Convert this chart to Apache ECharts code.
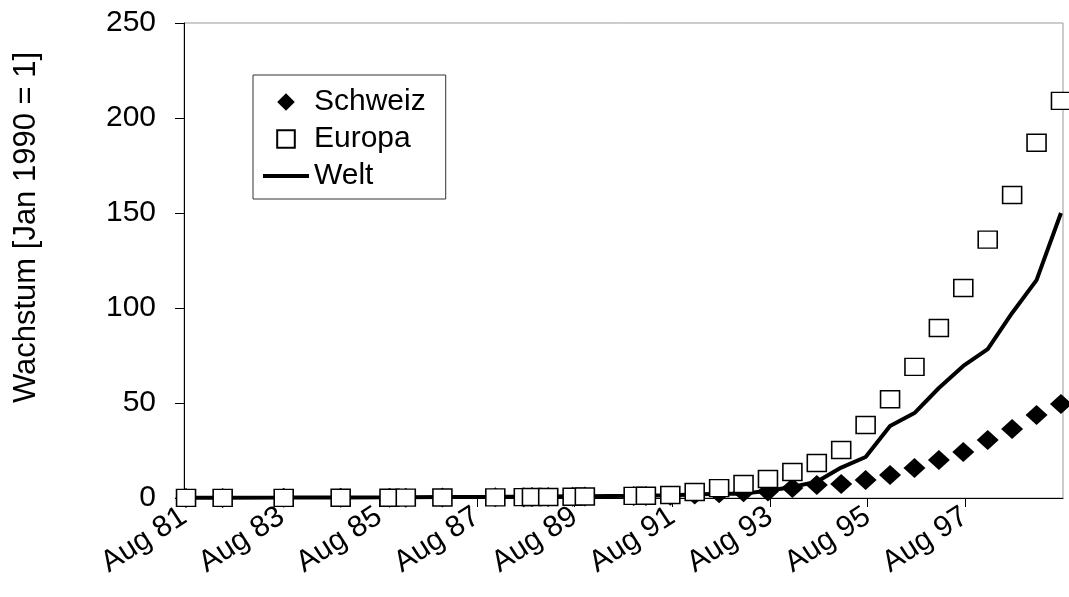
<!DOCTYPE html>
<html>
<head>
<meta charset="utf-8">
<script src="https://cdn.jsdelivr.net/npm/echarts@6/dist/echarts.min.js"></script>
<style>
html,body{margin:0;padding:0;background:#fff;}
#chart{width:1069px;height:597px;}
</style>
</head>
<body>
<div id="chart"></div>
<script>
// Observation dates (year-month)
var dates = ['1981-08','1982-05','1983-08','1984-10','1985-10','1986-02','1986-11','1987-12',
  '1988-07','1988-09','1989-01','1989-07','1989-10','1990-10','1991-01',
  '1991-07','1992-01','1992-07','1993-01','1993-07','1994-01','1994-07','1995-01',
  '1995-07','1996-01','1996-07','1997-01','1997-07','1998-01','1998-07','1999-01','1999-07'];
var seriesNames = ['Schweiz', 'Europa', 'Welt'];
var schweiz = [0.05,0.06,0.08,0.1,0.15,0.18,0.25,0.35,0.45,0.5,0.55,0.7,0.8,1.0,1.1,
  1.2,1.8,2.5,3.0,3.4,5.3,6.8,7.4,9.5,12.1,15.8,20,24.2,30.5,36.3,43.7,49.5];
var europa = [0.05,0.06,0.08,0.1,0.15,0.18,0.25,0.35,0.45,0.5,0.55,0.7,0.8,1.1,1.2,
  1.6,3.2,5.2,7.4,10,13.7,18.4,25.3,38.4,52,69,89.5,110.5,136,159.5,187,209];
var welt = [0.1,0.15,0.2,0.3,0.4,0.45,0.5,0.6,0.7,0.75,0.8,0.9,0.95,1.2,1.3,
  1.5,1.8,2.3,2.3,3.8,5.8,8.6,16,21.6,37.9,44.7,57.9,69.5,78.4,97.4,114.7,150];
var yTicks = [0, 50, 100, 150, 200, 250];
var yTitle = 'Wachstum [Jan 1990 = 1]';

// months since Aug 1981 (mid-month)
function monthIndex(d){
  var p = d.split('-');
  return (parseInt(p[0],10) - 1981) * 12 + (parseInt(p[1],10) - 8) + 0.5;
}
function pairs(vals){ return vals.map(function(v,i){ return [monthIndex(dates[i]), v]; }); }

var FONT = "'Liberation Sans', Arial, sans-serif";
var chart = echarts.init(document.getElementById('chart'), null, {renderer:'canvas'});
chart.setOption({
  animation:false,
  backgroundColor:'#fff',
  grid:{left:184, right:6, top:23, bottom:99, show:true, borderColor:'#999', borderWidth:1, containLabel:false},
  legend:{
    orient:'vertical', left:253, top:75,
    padding:[12,20,8,8],
    itemWidth:46, itemHeight:22, itemGap:7,
    borderColor:'#333', borderWidth:1,
    textStyle:{fontFamily:FONT, fontSize:30, color:'#000'},
    data:[{name:'Schweiz'},{name:'Europa'},
      {name:'Welt', itemStyle:{opacity:0}, lineStyle:{width:4, color:'#000'}}]
  },
  xAxis:{
    type:'value', min:0, max:216, interval:24,
    axisLine:{lineStyle:{color:'#000', width:1}},
    axisTick:{show:true, length:9, lineStyle:{color:'#000'}},
    splitLine:{show:false},
    axisLabel:{
      rotate:33, margin:16, showMaxLabel:false,
      fontFamily:FONT, fontSize:30, color:'#000',
      formatter:function(v){
        var y = (81 + Math.round(v/12)) % 100;
        return 'Aug ' + (y < 10 ? '0' + y : y);
      }
    }
  },
  yAxis:{
    type:'value', min:yTicks[0], max:yTicks[yTicks.length-1], interval:50,
    name:yTitle, nameLocation:'middle', nameGap:142,
    nameTextStyle:{fontFamily:FONT, fontSize:31, color:'#000', padding:[0,0,0,66]},
    axisLine:{show:true, lineStyle:{color:'#000', width:1}},
    axisTick:{show:true, length:9, lineStyle:{color:'#000'}},
    splitLine:{show:false},
    axisLabel:{margin:28, fontFamily:FONT, fontSize:30, color:'#000'}
  },
  series:[
    {
      name:'Welt', type:'line', data:pairs(welt), z:2,
      symbol:'none', showSymbol:false,
      lineStyle:{color:'#000', width:4},
      itemStyle:{color:'#000'}
    },
    {
      name:'Schweiz', type:'line', data:pairs(schweiz), z:3,
      symbol:'diamond', symbolSize:[22,20], showAllSymbol:true,
      lineStyle:{width:0, opacity:0},
      itemStyle:{color:'#000', borderWidth:0}
    },
    {
      name:'Europa', type:'line', data:pairs(europa), z:4,
      symbol:'rect', symbolSize:[19,17], showAllSymbol:true,
      lineStyle:{width:0, opacity:0},
      itemStyle:{color:'#fff', borderColor:'#000', borderWidth:1.5}
    }
  ]
});
</script>
</body>
</html>
